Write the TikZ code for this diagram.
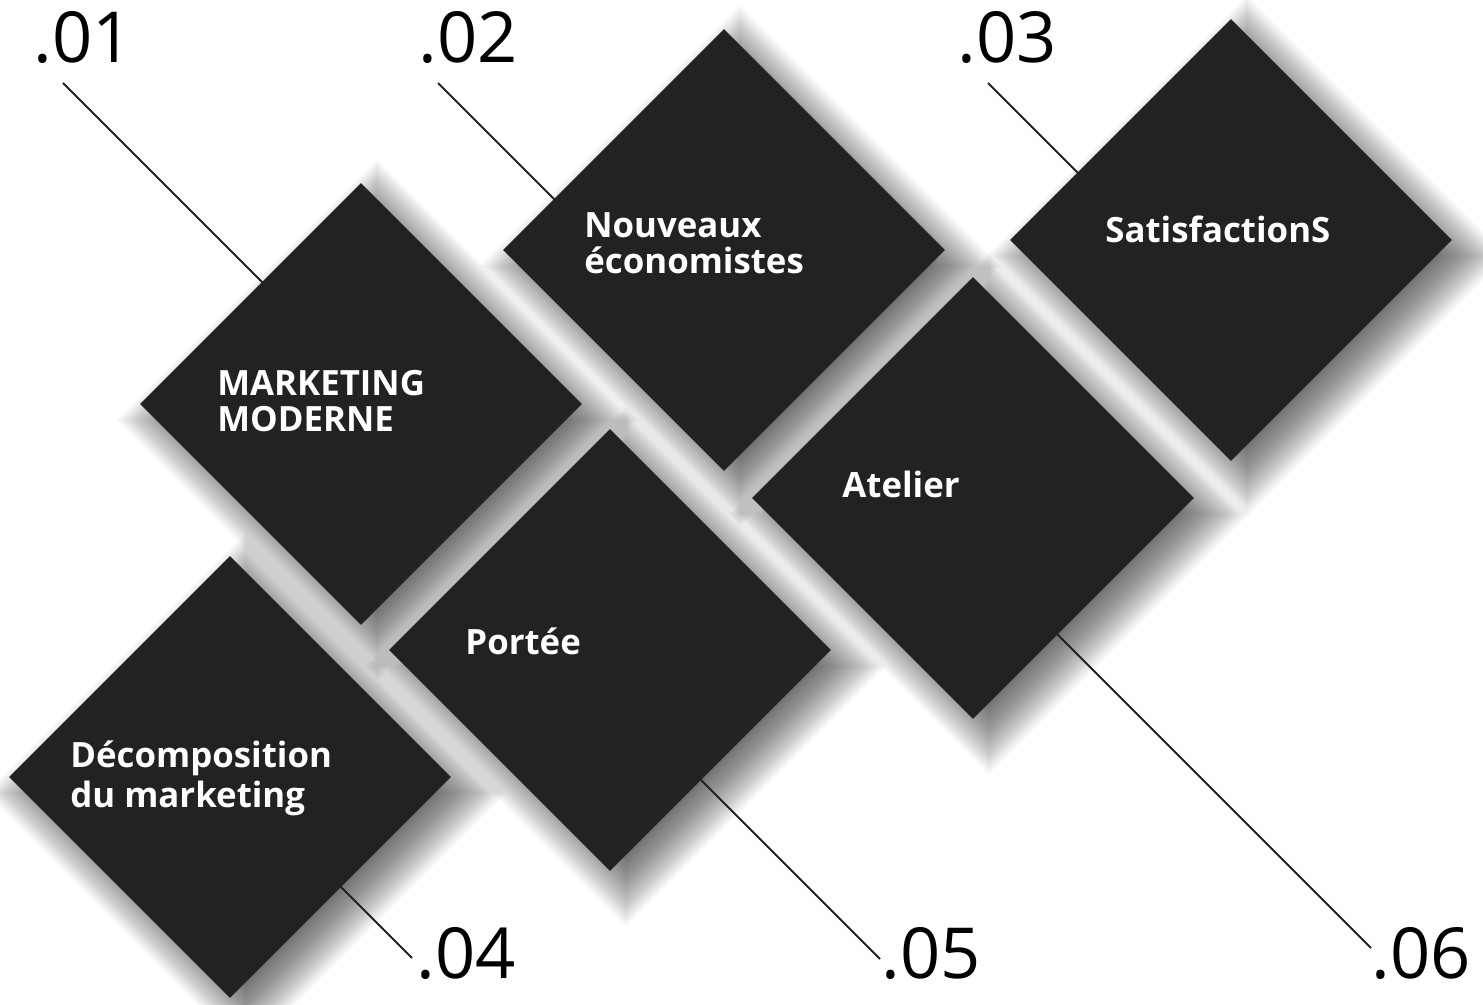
\documentclass[tikz,border=0pt]{standalone}
\usepackage{fontspec}
\setmainfont{Open Sans}
\usetikzlibrary{shapes.geometric}
\definecolor{dia}{HTML}{222222}
\begin{document}
\begin{tikzpicture}[x=0.5pt,y=-0.5pt,
  dbox/.style={shape=diamond, aspect=1, inner sep=0pt, minimum width=221pt, minimum height=221pt, fill=dia, draw=none},
  dlabel/.style={anchor=base west, inner sep=0pt, text=white, font=\fontsize{17.4pt}{#1}\selectfont\bfseries},
  dlabel/.default=18pt,
  numlabel/.style={anchor=base west, inner sep=0pt, text=black, font=\fontsize{35.2pt}{40pt}\selectfont},
  leader/.style={draw=dia, line width=0.9pt},
  shadowlayer/.style={fill=black, opacity=0.02},
]
\fill[white] (0,0) rectangle (1483,1005);
\useasboundingbox (0,0) rectangle (1483,1005);
% soft shadows
\foreach \cx/\cy in {361/404,724/250,1231/240,973/498,610/650,230/777}{
  \foreach \k in {0,...,39}{
    \pgfmathsetmacro\R{221+1.41421*(-28+\k*56/39)}
    \fill[shadowlayer] (\cx+16,\cy+16-\R) -- (\cx+16+\R,\cy+16) -- (\cx+16,\cy+16+\R) -- (\cx+16-\R,\cy+16) -- cycle;
  }
}
% leader lines
\coordinate (l1s) at (63,83);   \coordinate (l1e) at (300,320);
\coordinate (l2s) at (438,83);  \coordinate (l2e) at (600,245);
\coordinate (l3s) at (988,83);  \coordinate (l3e) at (1120,215);
\coordinate (l4s) at (412,958); \coordinate (l4e) at (300,846);
\coordinate (l5s) at (880,959); \coordinate (l5e) at (660,739);
\coordinate (l6s) at (1371,948);\coordinate (l6e) at (1000,577);
\draw[leader] (l1s) -- (l1e);
\draw[leader] (l2s) -- (l2e);
\draw[leader] (l3s) -- (l3e);
\draw[leader] (l4s) -- (l4e);
\draw[leader] (l5s) -- (l5e);
\draw[leader] (l6s) -- (l6e);
% diamonds
\node[dbox] (d1) at (361,404) {};
\node[dbox] (d2) at (724,250) {};
\node[dbox] (d3) at (1231,240) {};
\node[dbox] (d4) at (973,498) {};
\node[dbox] (d5) at (610,650) {};
\node[dbox] (d6) at (230,777) {};
% diamond labels
\node[dlabel=18pt] (t1) at (217,396) {\vtop{\hbox{MARKETING}\hbox{MODERNE}}};
\node[dlabel=17.8pt] (t2) at (584,238) {\vtop{\hbox{Nouveaux}\hbox{économistes}}};
\node[dlabel] (t3) at (1105,243) {SatisfactionS};
\node[dlabel] (t4) at (842,497) {Atelier};
\node[dlabel] (t5) at (465,654) {Portée};
\node[dlabel=20.3pt] (t6) at (70,767) {\vtop{\hbox{Décomposition}\hbox{du marketing}}};
% numbers
\node[numlabel] (n1) at (33,63) {.01};
\node[numlabel] (n2) at (418,63) {.02};
\node[numlabel] (n3) at (957,63) {.03};
\node[numlabel] (n4) at (416,978) {.04};
\node[numlabel] (n5) at (881,978) {.05};
\node[numlabel] (n6) at (1371,978) {.06};
\end{tikzpicture}
\end{document}
